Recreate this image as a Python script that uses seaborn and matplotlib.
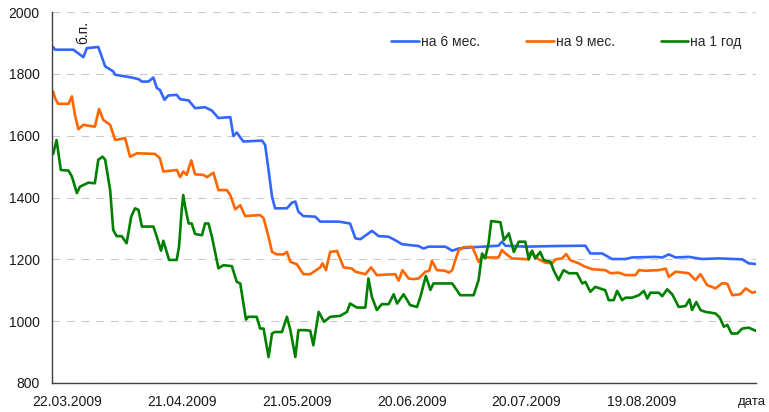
import numpy as np
import pandas as pd
import matplotlib
matplotlib.use('Agg')
import matplotlib.pyplot as plt
import matplotlib.dates as mdates
import matplotlib.transforms as mtransforms
import seaborn as sns

sns.set_theme(style='white')
plt.rcParams['font.family'] = ['Liberation Sans', 'DejaVu Sans']

start = pd.Timestamp('2009-03-18')
end = pd.Timestamp('2009-09-18')

series_names = ['на 6 мес.', 'на 9 мес.', 'на 1 год']
colors = ['#3366FF', '#FF6600', '#008000']

# day offsets from 18.03.2009 and values
days_6m = [0.3, 0.8, 5.6, 8.2, 9.1, 12.1, 13.9, 16.0, 16.5, 19.5, 20.8, 22.6, 23.5, 25.2,
           26.5, 27.4, 28.2, 29.4, 30.4, 32.6, 33.5, 35.7, 37.4, 40.0, 41.8, 43.5, 46.6,
           47.4, 48.3, 50.0, 54.9, 55.7, 56.6, 57.5, 58.3, 61.4, 62.7, 63.6, 64.4, 65.7,
           68.8, 70.1, 74.9, 77.9, 79.3, 80.6, 83.6, 85.4, 88.0, 89.7, 91.5, 95.0, 95.8,
           97.1, 98.4, 102.8, 104.6, 106.3, 109.8, 116.7, 117.6, 118.5, 123.7, 131.6,
           139.4, 140.7, 143.8, 146.4, 149.9, 151.6, 157.8, 159.5, 161.2, 163.0, 166.4,
           169.9, 174.3, 180.4, 182.1, 183.9]
vals_6m = [1887, 1878, 1878, 1854, 1883, 1887, 1824, 1808, 1797, 1791, 1788, 1783, 1775, 1775,
           1788, 1754, 1748, 1716, 1730, 1732, 1718, 1714, 1689, 1692, 1681, 1657, 1660,
           1599, 1610, 1581, 1584, 1570, 1489, 1403, 1365, 1365, 1383, 1387, 1354, 1340,
           1338, 1322, 1322, 1316, 1268, 1265, 1292, 1275, 1273, 1262, 1249, 1244, 1243,
           1235, 1241, 1241, 1228, 1235, 1239, 1244, 1257, 1244, 1241, 1243,
           1244, 1219, 1219, 1201, 1201, 1206, 1208, 1206, 1216, 1206, 1208,
           1201, 1203, 1200, 1187, 1185]

days_9m = [0.3, 0.8, 1.6, 4.3, 5.2, 6.0, 6.9, 8.2, 11.2, 12.3, 13.4, 15.2, 16.5, 19.1, 20.4,
           22.2, 26.9, 28.2, 29.1, 32.6, 33.5, 34.3, 35.2, 36.4, 37.4, 39.6, 40.5, 42.2, 43.5,
           45.7, 46.6, 47.9, 49.2, 50.5, 54.4, 55.3, 56.6, 57.5, 58.8, 60.5, 61.4, 62.3, 64.0,
           65.7, 67.5, 70.1, 70.7, 71.6, 72.7, 74.5, 76.2, 78.4, 79.3, 81.9, 83.4, 84.9, 89.7,
           90.6, 91.6, 93.2, 94.5, 95.8, 97.6, 98.6, 99.3, 100.6, 102.8, 103.7, 104.6, 105.4,
           106.3, 107.6, 109.8, 110.6, 111.5, 112.4, 113.7, 116.7, 117.6, 118.5, 120.2, 124.6,
           125.0, 126.3, 127.2, 129.0, 130.7, 131.6, 133.3, 134.4, 135.5, 137.7, 139.0, 141.2,
           144.6, 146.0, 148.1, 149.9, 152.5, 153.4, 155.1, 158.6, 160.4, 161.2, 163.0, 166.4,
           168.2, 169.5, 171.2, 173.4, 175.2, 176.5, 177.8, 179.9, 181.3, 183.0, 183.9]
vals_9m = [1743, 1721, 1703, 1703, 1727, 1667, 1621, 1635, 1629, 1686, 1651, 1635, 1586, 1592, 1532,
           1543, 1541, 1527, 1484, 1489, 1466, 1484, 1473, 1520, 1475, 1473, 1466, 1480, 1424,
           1424, 1408, 1362, 1375, 1340, 1343, 1333, 1273, 1224, 1216, 1216, 1224, 1192, 1184,
           1152, 1152, 1174, 1187, 1165, 1224, 1227, 1174, 1170, 1160, 1152, 1174, 1149, 1152,
           1131, 1165, 1138, 1136, 1138, 1160, 1163, 1195, 1165, 1163, 1157, 1165, 1197,
           1230, 1239, 1241, 1219, 1192, 1208, 1206, 1206, 1230, 1219, 1203, 1200,
           1222, 1210, 1200, 1189, 1187, 1200, 1203, 1217, 1197, 1187, 1178, 1168,
           1165, 1155, 1157, 1149, 1149, 1165, 1163, 1165, 1170, 1143, 1160, 1155,
           1133, 1152, 1117, 1106, 1123, 1121, 1084, 1087, 1106, 1092, 1095]

days_1y = [0.3, 1.2, 2.3, 4.3, 5.2, 6.5, 7.3, 9.5, 11.2, 12.1, 13.2, 13.9, 15.2, 16.0, 16.9,
           18.2, 19.5, 20.7, 21.7, 22.6, 23.5, 26.5, 27.4, 28.5, 29.1, 30.6, 32.6, 33.2, 33.9,
           34.3, 34.8, 35.7, 36.5, 37.4, 39.2, 40.0, 40.9, 41.8, 43.5, 44.8, 47.0, 48.3, 49.2,
           50.7, 51.3, 53.5, 54.4, 55.3, 56.6, 57.5, 58.3, 60.1, 61.4, 62.3, 63.6, 64.4, 66.2,
           67.5, 68.3, 69.7, 71.1, 72.7, 75.3, 77.1, 77.9, 79.7, 81.9, 82.7, 83.6, 84.9, 86.2,
           88.0, 89.3, 90.2, 91.9, 93.6, 95.4, 96.3, 97.7, 98.9, 99.7, 104.6, 106.7, 110.2,
           111.5, 112.4, 113.2, 114.1, 114.8, 117.2, 118.1, 119.4, 120.7, 122.0, 123.7, 124.6,
           125.5, 126.3, 127.6, 128.5, 130.3, 131.1, 132.4, 133.7, 135.1, 137.2, 138.6, 139.4,
           140.7, 142.0, 144.6, 145.5, 146.8, 147.7, 149.0, 149.9, 151.6, 153.4, 154.7, 155.6,
           156.4, 158.6, 159.5, 160.8, 162.1, 163.8, 165.6, 166.6, 167.3, 168.4, 169.5, 170.8,
           173.4, 174.5, 175.6, 176.5, 177.6, 179.1, 180.4, 182.1, 183.9]
vals_1y = [1541, 1586, 1489, 1487, 1468, 1414, 1435, 1448, 1446, 1522, 1532, 1522, 1424, 1295, 1275,
           1275, 1252, 1338, 1365, 1360, 1306, 1306, 1273, 1228, 1260, 1198, 1198, 1241, 1360,
           1408, 1370, 1316, 1316, 1282, 1278, 1316, 1316, 1273, 1171, 1181, 1178, 1127, 1122,
           1005, 1014, 1014, 976, 976, 884, 960, 965, 965, 1014, 971, 884, 971, 971,
           969, 922, 1030, 998, 1014, 1017, 1030, 1057, 1044, 1044, 1138, 1079, 1036, 1055,
           1055, 1087, 1057, 1087, 1052, 1046, 1079, 1146, 1101, 1122, 1122, 1084, 1084,
           1133, 1219, 1203, 1251, 1324, 1320, 1262, 1284, 1224, 1257, 1257, 1200,
           1228, 1203, 1224, 1198, 1192, 1165, 1133, 1165, 1155, 1155, 1122, 1127,
           1095, 1111, 1100, 1068, 1068, 1098, 1068, 1076, 1076, 1084, 1098, 1073,
           1092, 1092, 1081, 1103, 1087, 1046, 1049, 1070, 1036, 1062, 1036, 1030,
           1025, 1012, 982, 988, 960, 960, 976, 979, 969]

tick_dates = ['2009-03-22', '2009-04-21', '2009-05-21', '2009-06-20',
              '2009-07-20', '2009-08-19', '2009-09-18']
tick_labels = ['22.03.2009', '21.04.2009', '21.05.2009', '20.06.2009',
               '20.07.2009', '19.08.2009', 'дата']


def main():
    frames = []
    for name, d, v in zip(series_names, [days_6m, days_9m, days_1y], [vals_6m, vals_9m, vals_1y]):
        frames.append(pd.DataFrame({
            'date': start + pd.to_timedelta(np.array(d), unit='D'),
            'value': v,
            'series': name,
        }))
    data = pd.concat(frames, ignore_index=True)

    fig = plt.figure(figsize=(7.69, 4.12), dpi=100)
    ax = fig.add_axes([52 / 769, 1 - 383 / 412, 704 / 769, 371 / 412])

    sns.lineplot(data=data, x='date', y='value', hue='series', hue_order=series_names,
                 palette=colors, linewidth=1.9, ax=ax, legend=True)

    ax.set_xlim(start, end)
    ax.set_ylim(800, 2000)
    ax.set_yticks(range(800, 2001, 200))
    ax.set_xticks(mdates.date2num(pd.to_datetime(tick_dates)))
    ax.set_xticklabels(tick_labels)
    ax.set_xlabel('')
    ax.set_ylabel('')

    ax.yaxis.grid(True, color='#c8c8c8', linestyle=(0, (7.5, 6.5)), linewidth=0.75)
    ax.xaxis.grid(False)
    sns.despine(ax=ax)
    for s in ['left', 'bottom']:
        ax.spines[s].set_color('#404040')
        ax.spines[s].set_linewidth(1.0)
    ax.tick_params(axis='both', direction='out', length=4, width=1, color='#404040',
                   labelsize=10, labelcolor='#1a1a1a')
    ax.tick_params(axis='x', pad=5)
    ax.tick_params(axis='y', pad=5)

    # last x label ("дата") sits at the right edge, nudge it inside
    last = ax.get_xticklabels()[-1]
    last.set_fontsize(9.5)
    last.set_transform(last.get_transform() +
                       mtransforms.ScaledTranslation(-4 / 100, 0, fig.dpi_scale_trans))

    ax.text(0.045, 0.944, 'б.п.', transform=ax.transAxes, rotation=90,
            ha='center', va='center', fontsize=10, color='#1a1a1a')

    handles, labels = ax.get_legend_handles_labels()
    ax.legend(handles, labels, ncol=3, frameon=False, loc='center left',
              bbox_to_anchor=(391 / 769, 1 - 42 / 412), bbox_transform=fig.transFigure,
              borderpad=0, borderaxespad=0, handlelength=2.0, handletextpad=0.15,
              columnspacing=3.3, fontsize=10)

    fig.savefig('out.png', dpi=100)
    plt.close(fig)


if __name__ == '__main__':
    main()
